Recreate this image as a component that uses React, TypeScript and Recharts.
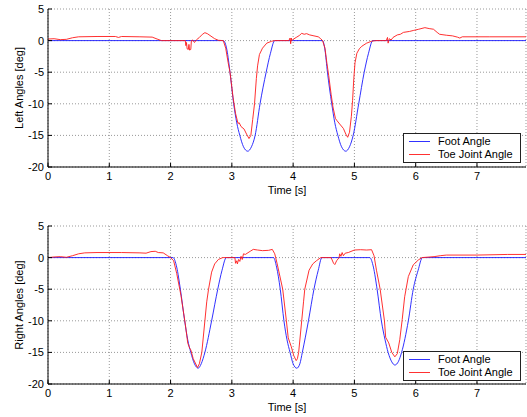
import React from 'react';
import { LineChart, Line, XAxis, YAxis, CartesianGrid, Legend } from 'recharts';

const FONT = '"Liberation Sans", Arial, sans-serif';

const timeTicks = [0, 1, 2, 3, 4, 5, 6, 7];
const angleTicks = [-20, -15, -10, -5, 0, 5];
const timeDomain: [number, number] = [0, 7.8];
const angleDomain: [number, number] = [-20, 5];
const seriesNames = ['Foot Angle', 'Toe Joint Angle'];
const xLabel = 'Time [s]';
const yLabels = ['Left Angles [deg]', 'Right Angles [deg]'];

// [time (s), angle (deg)]
const leftFoot: [number, number][] = [
  [0, 0], [2.86, 0], [2.92, -1.5], [2.97, -5], [3.03, -10], [3.08, -13], [3.13, -15],
  [3.19, -16.8], [3.26, -17.5], [3.32, -16.8], [3.38, -15], [3.46, -10], [3.56, -5],
  [3.63, -2], [3.7, 0], [4.48, 0], [4.52, -1.5], [4.56, -5], [4.63, -10], [4.68, -13],
  [4.73, -15], [4.79, -16.8], [4.86, -17.5], [4.92, -16.8], [4.98, -15], [5.07, -10],
  [5.16, -5], [5.23, -2], [5.3, 0], [7.8, 0],
];

const leftToe: [number, number][] = [
  [0, 0.25], [0.1, 0.3], [0.2, 0.15], [0.3, 0.2], [0.4, 0.45], [0.5, 0.6], [0.8, 0.65],
  [1.1, 0.65], [1.15, 0.5], [1.2, 0.65], [1.5, 0.6], [1.7, 0.55], [1.78, 0.25], [1.85, 0],
  [2.24, 0], [2.25, -0.8], [2.26, -0.3], [2.27, -1.3], [2.29, -1.4], [2.3, -0.6], [2.31, -1.5],
  [2.33, -1.4], [2.34, 0], [2.36, 0.1], [2.39, -0.3], [2.42, 0.1], [2.47, 0.5], [2.52, 1.0],
  [2.56, 1.25], [2.6, 1.1], [2.66, 0.7], [2.72, 0.3], [2.78, 0.05], [2.86, 0], [2.9, -1.2],
  [2.94, -3.5], [2.97, -5], [3.02, -9], [3.06, -11.5], [3.1, -13.1], [3.12, -13], [3.15, -13.6],
  [3.2, -14], [3.24, -14.8], [3.28, -15.5], [3.31, -15], [3.34, -12.5], [3.37, -10], [3.4, -6],
  [3.42, -4], [3.45, -2.2], [3.5, -1.2], [3.57, -0.4], [3.65, -0.1], [3.7, 0], [3.93, 0],
  [3.95, 0.4], [3.96, -0.5], [3.97, 0.4], [3.98, 0], [4.0, 0.2], [4.05, 0.5], [4.1, 0.8],
  [4.14, 1.15], [4.18, 1.0], [4.22, 1.1], [4.27, 0.9], [4.34, 0.75], [4.41, 0.6], [4.45, 0.3],
  [4.48, 0], [4.52, -1.2], [4.55, -3.5], [4.58, -5.5], [4.62, -8.5], [4.65, -10.5], [4.69, -12.3],
  [4.71, -12.6], [4.76, -13.2], [4.82, -13.9], [4.86, -14.8], [4.89, -15.3], [4.92, -14.5],
  [4.95, -12], [4.97, -9.5], [4.99, -6], [5.01, -3.5], [5.04, -2], [5.08, -1.3], [5.12, -0.9],
  [5.2, -0.4], [5.28, -0.1], [5.35, 0], [5.52, 0], [5.54, 0.5], [5.55, -0.4], [5.57, 0.3],
  [5.6, 0.1], [5.63, 0.5], [5.7, 0.9], [5.75, 1.0], [5.8, 1.3], [5.9, 1.45], [5.96, 1.6],
  [6.05, 1.8], [6.15, 2.05], [6.22, 1.9], [6.29, 1.8], [6.35, 1.3], [6.39, 1.0], [6.5, 0.85],
  [6.6, 0.75], [6.68, 0.55], [6.72, 0.4], [6.76, 0.6], [7.2, 0.6], [7.8, 0.6],
];

const rightFoot: [number, number][] = [
  [0, 0], [2.04, 0], [2.1, -1.5], [2.16, -5], [2.23, -10], [2.28, -13], [2.33, -15],
  [2.39, -16.8], [2.45, -17.5], [2.5, -16.8], [2.56, -15], [2.67, -10], [2.77, -5],
  [2.84, -2], [2.91, 0], [3.68, 0], [3.73, -1.5], [3.79, -5], [3.85, -10], [3.9, -13],
  [3.95, -15], [4.0, -16.8], [4.06, -17.5], [4.11, -16.8], [4.15, -15], [4.25, -10],
  [4.34, -5], [4.41, -2], [4.47, 0], [5.25, 0], [5.31, -1.5], [5.37, -5], [5.44, -10],
  [5.5, -13], [5.55, -15], [5.61, -16.5], [5.66, -17.0], [5.72, -16.4], [5.77, -15],
  [5.88, -10], [5.96, -5], [6.04, -2], [6.11, 0], [7.8, 0],
];

const rightToe: [number, number][] = [
  [0, 0], [0.1, 0.1], [0.2, 0.15], [0.3, 0.05], [0.4, 0.3], [0.5, 0.6], [0.6, 0.75],
  [0.8, 0.8], [1.2, 0.8], [1.5, 0.75], [1.6, 0.7], [1.68, 0.95], [1.75, 1.0], [1.8, 0.8],
  [1.88, 0.75], [1.95, 0.3], [2.0, 0], [2.05, -0.5], [2.1, -2.5], [2.17, -6], [2.24, -10.5],
  [2.28, -13.5], [2.31, -14.3], [2.33, -14.6], [2.37, -16], [2.44, -17.4], [2.47, -16.8],
  [2.51, -15], [2.56, -10], [2.59, -7], [2.62, -5], [2.67, -2.3], [2.72, -1], [2.78, -0.3],
  [2.85, 0], [3.05, 0], [3.06, -0.9], [3.08, -0.5], [3.09, -1.0], [3.11, -0.3], [3.13, -0.6],
  [3.15, 0.2], [3.17, -0.3], [3.19, 0.6], [3.22, 0.5], [3.3, 1.0], [3.35, 1.3], [3.42, 1.2],
  [3.5, 1.1], [3.6, 1.15], [3.66, 1.3], [3.7, 0.6], [3.74, -1], [3.83, -5], [3.89, -10],
  [3.92, -12.7], [3.97, -14.1], [4.01, -15.5], [4.05, -16.3], [4.07, -16], [4.09, -15],
  [4.14, -10], [4.17, -7], [4.19, -5], [4.26, -2], [4.32, -1], [4.38, -0.5], [4.45, 0],
  [4.62, 0], [4.66, -0.9], [4.68, -1.1], [4.71, -0.5], [4.75, 0], [4.76, 0.6], [4.78, 0.2],
  [4.8, 0.8], [4.82, 0.3], [4.85, 0.7], [4.9, 0.8], [5.0, 1.2], [5.1, 1.25], [5.2, 1.2],
  [5.28, 1.25], [5.32, 0.3], [5.36, -2], [5.42, -5], [5.49, -10], [5.51, -12.6], [5.56, -13.5],
  [5.61, -15], [5.66, -15.7], [5.7, -15.2], [5.74, -13], [5.78, -9.8], [5.82, -6.2],
  [5.88, -3], [5.96, -1.15], [6.04, -0.4], [6.1, 0], [6.3, 0.15], [6.4, 0.3], [6.5, 0.4],
  [7.0, 0.4], [7.5, 0.5], [7.8, 0.5],
];

const toRows = (pts: [number, number][]) => pts.map(([t, v]) => ({ t, v }));

const FOOT_COLOR = '#1a1aff';
const TOE_COLOR = '#ff1a1a';

const tickStyle = { fill: '#000', fontSize: 11, fontFamily: FONT };
const labelStyle = { fill: '#000', fontSize: 11, fontFamily: FONT };

const LegendBox = (props: any) => {
  const payload = props.payload || [];
  const rows = [1, 14];
  return (
    <div
      style={{
        width: 118,
        height: 30,
        boxSizing: 'border-box',
        border: '1px solid #222',
        background: '#fff',
        position: 'relative',
        fontFamily: FONT,
        fontSize: 11,
        color: '#000',
      }}
    >
      {payload.map((p: any, i: number) => (
        <div
          key={i}
          style={{
            position: 'absolute',
            left: 0,
            top: rows[i],
            height: 13,
            display: 'flex',
            alignItems: 'center',
            whiteSpace: 'nowrap',
          }}
        >
          <svg width={34} height={13} style={{ display: 'block' }}>
            <line x1={5} x2={26} y1={6.5} y2={6.5} stroke={p.color} strokeWidth={0.9} />
          </svg>
          <span style={{ lineHeight: '13px' }}>{p.value}</span>
        </div>
      ))}
    </div>
  );
};

type PanelProps = {
  foot: [number, number][];
  toe: [number, number][];
  yLabel: string;
  top: number;
  height: number;
  marginTop: number;
  marginBottom: number;
  legendTop: number;
};

function Panel({ foot, toe, yLabel, top, height, marginTop, marginBottom, legendTop }: PanelProps) {
  return (
    <div style={{ position: 'absolute', left: 0, top }}>
      <LineChart
        width={527}
        height={height}
        margin={{ top: marginTop, right: 1, bottom: marginBottom, left: 0 }}
      >
        <CartesianGrid stroke="#999" strokeDasharray="1 2" />
        <XAxis
          dataKey="t"
          type="number"
          domain={timeDomain}
          ticks={timeTicks}
          interval={0}
          allowDataOverflow
          height={30}
          stroke="#000"
          tickSize={-4}
          tickMargin={9}
          tick={tickStyle}
          label={{ value: xLabel, position: 'insideBottom', offset: 3, style: labelStyle }}
        />
        <XAxis
          xAxisId="top"
          orientation="top"
          type="number"
          domain={timeDomain}
          ticks={timeTicks}
          interval={0}
          allowDataOverflow
          height={0}
          stroke="#000"
          tickSize={-4}
          tick={false}
        />
        <YAxis
          type="number"
          domain={angleDomain}
          ticks={angleTicks}
          interval={0}
          allowDataOverflow
          width={48}
          stroke="#000"
          tickSize={-4}
          tickMargin={8}
          tick={tickStyle}
          label={{
            value: yLabel,
            angle: -90,
            position: 'insideLeft',
            offset: 19,
            style: { ...labelStyle, textAnchor: 'middle' },
          }}
        />
        <YAxis
          yAxisId="right"
          orientation="right"
          type="number"
          domain={angleDomain}
          ticks={angleTicks}
          interval={0}
          allowDataOverflow
          width={0}
          stroke="#000"
          tickSize={-4}
          tick={false}
        />
        <Line
          data={toRows(foot)}
          dataKey="v"
          name={seriesNames[0]}
          type="monotone"
          stroke={FOOT_COLOR}
          strokeWidth={0.9}
          dot={false}
          activeDot={false}
          isAnimationActive={false}
        />
        <Line
          data={toRows(toe)}
          dataKey="v"
          name={seriesNames[1]}
          type="linear"
          stroke={TOE_COLOR}
          strokeWidth={0.9}
          dot={false}
          activeDot={false}
          isAnimationActive={false}
        />
        <Legend
          layout="vertical"
          align="center"
          verticalAlign="middle"
          content={LegendBox}
          wrapperStyle={{ left: 403, top: legendTop, width: 118, height: 30 }}
        />
      </LineChart>
    </div>
  );
}

export default function App() {
  return (
    <div style={{ position: 'absolute', left: 0, top: 0, width: 527, height: 417, background: '#fff' }}>
      <Panel foot={leftFoot} toe={leftToe} yLabel={yLabels[0]} top={0} height={208} marginTop={9} marginBottom={11} legendTop={133} />
      <Panel foot={rightFoot} toe={rightToe} yLabel={yLabels[1]} top={208} height={209} marginTop={18} marginBottom={3} legendTop={143} />
    </div>
  );
}
